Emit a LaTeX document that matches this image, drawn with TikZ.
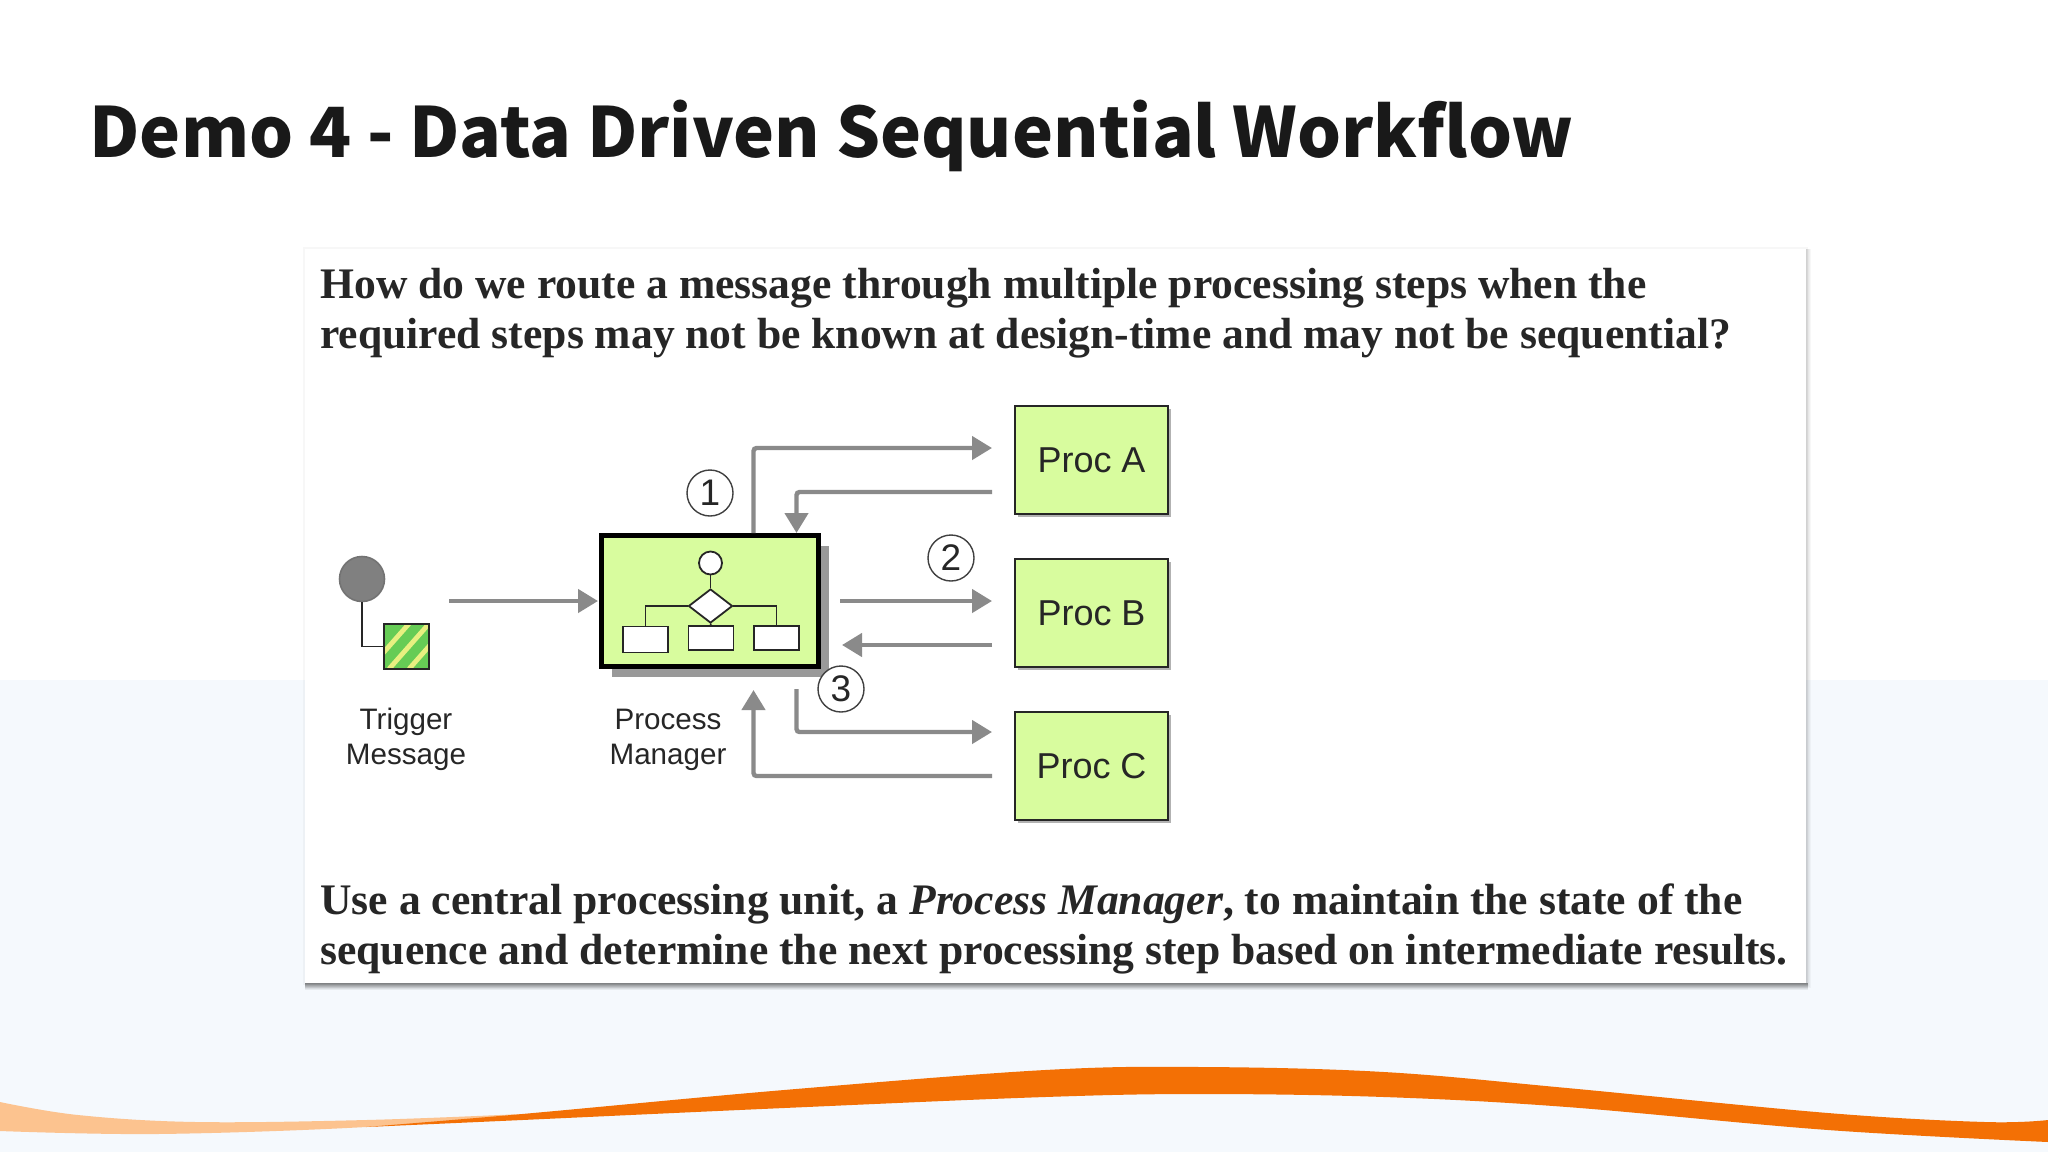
\documentclass[tikz,border=0pt]{standalone}
\usepackage{xcolor}
\usepackage{fontspec}
\setmainfont{Liberation Serif}
\setsansfont{Liberation Sans}
\newfontfamily\titlefont{Noto Sans CJK SC}
\usetikzlibrary{arrows.meta,shapes.geometric,shadows}

\definecolor{pageblue}{HTML}{F5F9FD}
\definecolor{procgreen}{HTML}{D8FC9E}
\definecolor{flowgray}{HTML}{8A8A8A}
\definecolor{swooshdark}{HTML}{F37005}
\definecolor{swooshlight}{HTML}{FCC38F}
\definecolor{msggreen}{HTML}{66CC55}
\definecolor{msgyellow}{HTML}{E8F080}

\tikzset{
    panelline/.style={anchor=base west, inner sep=0pt, text=black!85, font=\bfseries\fontsize{21.8}{25}\selectfont},
    flowline/.style={draw=flowgray, line width=2.2pt, rounded corners=1.5pt},
    flowarrow/.style={flowline, -{Triangle[length=10pt,width=11.5pt]}},
    procbox/.style={draw=black!85, line width=1.3pt, fill=procgreen, minimum width=76.5pt, minimum height=54pt, inner sep=0pt,
        font=\sffamily\fontsize{18}{21}\selectfont, text=black!85,
        drop shadow={shadow xshift=1.6pt, shadow yshift=-1.6pt, fill=black!30, opacity=1}},
    stepnum/.style={circle, draw=black!75, line width=0.7pt, fill=white, minimum size=23pt, inner sep=0pt, font=\sffamily\fontsize{18.5}{21}\selectfont, text=black!85},
    caption/.style={inner sep=0pt, align=center, text=black!85, font=\sffamily\fontsize{14.8}{17.5}\selectfont},
    miniline/.style={draw=black!85, line width=0.9pt},
    minibox/.style={miniline, fill=white, minimum width=22.5pt, minimum height=12pt, inner sep=0pt}
}

\begin{document}
\begin{tikzpicture}[x=0.5pt,y=-0.5pt]
        % Page background
        \useasboundingbox (0,0) rectangle (2048,1152);
        \fill[white] (0,0) rectangle (2048,680);
        \fill[pageblue] (0,680) rectangle (2048,1152);

        % Orange band along the bottom
        \fill[swooshlight] plot [smooth, tension=0.6] coordinates {(0,1102) (78,1115) (196,1122) (366,1120) (522,1114)}
            -- plot [smooth, tension=0.6] coordinates {(522,1114) (366,1127) (157,1134) (0,1131)} -- cycle;
        \fill[swooshdark] plot [smooth, tension=0.6] coordinates {(366,1127) (522,1114) (784,1090) (1045,1070) (1202,1067) (1384,1072) (1567,1088) (1828,1113) (1985,1122) (2048,1120)}
            -- plot [smooth, tension=0.6] coordinates {(2048,1142) (1828,1130) (1567,1107) (1384,1097) (1202,1094) (1045,1097) (784,1108) (522,1120) (366,1127)} -- cycle;

        % Title
        \node[anchor=base west, inner sep=0pt, text=black!90, font=\titlefont\bfseries\fontsize{34.6}{42}\selectfont] (title) at (89,157) {Demo 4 - Data Driven Sequential Workflow};

        % Panel with its shadow
        \fill[black, opacity=0.03] (303,247) rectangle (1808,985);
        \foreach \d in {1,...,5} {
            \fill[black, opacity=0.03] (305,249) rectangle (1806+\d,983+\d);
        }
        \foreach \d in {1,...,7} {
            \fill[black, opacity=0.06] (305,983) rectangle (1808,983+\d);
        }
        \fill[white] (305,249) rectangle (1806,983);

        % Question and answer text
        \node[panelline] (question1) at (320,298) {How do we route a message through multiple processing steps when the};
        \node[panelline] (question2) at (320,348) {required steps may not be known at design-time and may not be sequential?};
        \node[panelline] (answer1) at (320,914) {Use a central processing unit, a \textit{Process Manager}, to maintain the state of the};
        \node[panelline] (answer2) at (320,964) {sequence and determine the next processing step based on intermediate results.};

        % Process boxes
        \node[procbox] (procA) at (1091.5,460) {Proc A};
        \node[procbox] (procB) at (1091.5,613) {Proc B};
        \node[procbox] (procC) at (1091.5,766) {Proc C};

        % Process manager with its small flow chart
        \node[draw=black, line width=2.5pt, fill=procgreen, minimum width=108.5pt, minimum height=65.5pt, inner sep=0pt,
            drop shadow={shadow xshift=5.5pt, shadow yshift=-5.5pt, fill=black!40, opacity=1}] (manager) at (709.5,600.5) {};
        \node[miniline, circle, fill=white, minimum size=11.5pt, inner sep=0pt] (start) at (710.5,563) {};
        \node[miniline, diamond, fill=white, minimum width=22pt, minimum height=17pt, inner sep=0pt] (choice) at (710.5,606) {};
        \node[minibox, minimum height=13pt] (left) at (645.5,639.5) {};
        \node[minibox] (middle) at (711,638) {};
        \node[minibox] (right) at (776.5,638) {};
        \draw[miniline] (start) -- (choice);
        \draw[miniline] (choice) -- (middle);
        \draw[miniline] (choice.west) -| (left.north);
        \draw[miniline] (choice.east) -| (right.north);

        % Trigger message
        \node[circle, draw=black!55, line width=0.8pt, fill=black!50, minimum size=22.5pt, inner sep=0pt] (source) at (362,579) {};
        \begin{scope}
            \clip (384,624) rectangle (429,669);
            \fill[msggreen] (384,624) rectangle (429,669);
            \foreach \s in {-15,5,25} {
                \draw[msgyellow, line width=2.4pt] (384+\s,669) -- (429+\s,618);
            }
        \end{scope}
        \node[draw=black!85, line width=1pt, minimum size=22.5pt, inner sep=0pt] (message) at (406.5,646.5) {};
        \draw[miniline] (source.south) |- (message.west);

        % Labels under the two icons
        \node[caption] (triggerlabel) at (406,739.5) {Trigger\\Message};
        \node[caption] (managerlabel) at (668,739.5) {Process\\Manager};

        % Step numbers
        \node[stepnum] (one) at (710,493) {1};
        \node[stepnum] (two) at (951,558) {2};
        \node[stepnum] (three) at (841,689) {3};

        % Free ends of the connectors
        \coordinate (triggerout) at (449,601);
        \coordinate (managerin) at (598,601);
        \coordinate (topout) at (753.5,533);
        \coordinate (topin) at (796.5,533);
        \coordinate (aIn) at (992,448);
        \coordinate (aOut) at (992,492);
        \coordinate (midout) at (840,601);
        \coordinate (midin) at (842,645);
        \coordinate (bIn) at (992,601);
        \coordinate (bOut) at (992,645);
        \coordinate (lowout) at (796.5,689);
        \coordinate (lowin) at (753.5,690);
        \coordinate (cIn) at (992,732);
        \coordinate (cOut) at (992,776);

        % Arrows
        \draw[flowarrow] (triggerout) -- (managerin);
        \draw[flowarrow] (topout) |- (aIn);
        \draw[flowarrow] (aOut) -| (topin);
        \draw[flowarrow] (midout) -- (bIn);
        \draw[flowarrow] (bOut) -- (midin);
        \draw[flowarrow] (lowout) |- (cIn);
        \draw[flowarrow] (cOut) -| (lowin);

    \end{tikzpicture}
\end{document}
